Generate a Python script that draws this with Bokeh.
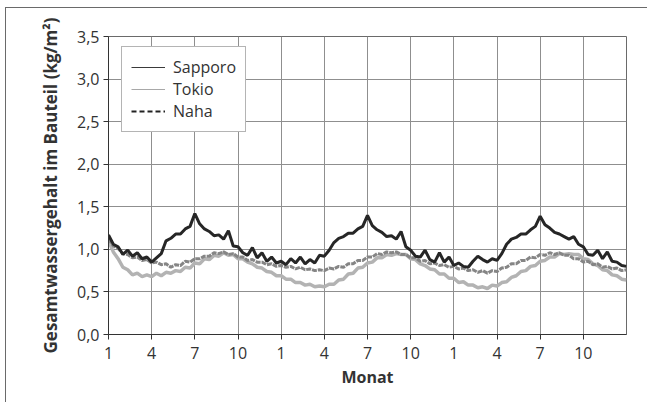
from bokeh.plotting import figure
from bokeh.models import FixedTicker, Legend, LegendItem, ColumnDataSource, Range1d
from bokeh.embed import file_html
from bokeh.resources import INLINE
import numpy as np

# Water content in the component (kg/m²), sampled three times per month over three years
sapporo = [
    1.17, 1.06, 1.03, 0.94, 0.99, 0.92, 0.96, 0.89, 0.91, 0.85, 0.90, 0.95,
    1.10, 1.13, 1.18, 1.18, 1.24, 1.27, 1.42, 1.30, 1.24, 1.21, 1.16, 1.17,
    1.12, 1.22, 1.04, 1.03, 0.96, 0.93, 1.02, 0.90, 0.96, 0.86, 0.91, 0.84,
    0.86, 0.82, 0.89, 0.84, 0.91, 0.83, 0.88, 0.84, 0.93, 0.92, 0.99, 1.08,
    1.13, 1.15, 1.19, 1.19, 1.24, 1.27, 1.40, 1.28, 1.23, 1.20, 1.15, 1.16,
    1.12, 1.21, 1.03, 0.99, 0.92, 0.91, 0.99, 0.88, 0.85, 0.96, 0.85, 0.91,
    0.81, 0.84, 0.80, 0.79, 0.86, 0.92, 0.88, 0.85, 0.89, 0.87, 0.95, 1.06,
    1.12, 1.14, 1.18, 1.18, 1.23, 1.27, 1.39, 1.29, 1.25, 1.20, 1.18, 1.15,
    1.12, 1.15, 1.06, 1.03, 0.94, 0.93, 0.99, 0.89, 0.97, 0.86, 0.85, 0.81,
    0.80,
]
tokio = [
    1.10, 0.97, 0.89, 0.79, 0.76, 0.70, 0.72, 0.68, 0.70, 0.68, 0.72, 0.69,
    0.73, 0.72, 0.75, 0.74, 0.79, 0.78, 0.84, 0.83, 0.89, 0.88, 0.93, 0.92,
    0.96, 0.93, 0.94, 0.89, 0.89, 0.85, 0.83, 0.79, 0.78, 0.74, 0.73, 0.69,
    0.69, 0.65, 0.65, 0.61, 0.61, 0.58, 0.59, 0.56, 0.57, 0.56, 0.59, 0.59,
    0.64, 0.65, 0.71, 0.72, 0.78, 0.79, 0.84, 0.85, 0.90, 0.90, 0.94, 0.93,
    0.95, 0.94, 0.94, 0.89, 0.88, 0.83, 0.81, 0.77, 0.76, 0.71, 0.71, 0.66,
    0.66, 0.61, 0.62, 0.58, 0.58, 0.55, 0.56, 0.54, 0.58, 0.57, 0.61, 0.62,
    0.67, 0.69, 0.74, 0.75, 0.80, 0.81, 0.86, 0.87, 0.91, 0.91, 0.95, 0.94,
    0.95, 0.94, 0.94, 0.89, 0.88, 0.83, 0.81, 0.76, 0.75, 0.70, 0.69, 0.65,
    0.64,
]
naha = [
    1.12, 1.04, 1.01, 0.95, 0.94, 0.90, 0.91, 0.87, 0.88, 0.84, 0.85, 0.82,
    0.83, 0.79, 0.82, 0.81, 0.86, 0.85, 0.89, 0.89, 0.92, 0.92, 0.96, 0.95,
    0.97, 0.94, 0.95, 0.91, 0.91, 0.87, 0.88, 0.85, 0.85, 0.82, 0.83, 0.80,
    0.81, 0.79, 0.80, 0.77, 0.79, 0.76, 0.77, 0.75, 0.76, 0.75, 0.78, 0.77,
    0.80, 0.79, 0.83, 0.83, 0.87, 0.87, 0.91, 0.91, 0.95, 0.94, 0.97, 0.96,
    0.97, 0.94, 0.94, 0.90, 0.90, 0.86, 0.87, 0.83, 0.84, 0.81, 0.82, 0.79,
    0.80, 0.77, 0.78, 0.75, 0.76, 0.73, 0.75, 0.72, 0.75, 0.74, 0.78, 0.79,
    0.83, 0.83, 0.87, 0.87, 0.91, 0.90, 0.94, 0.93, 0.96, 0.94, 0.96, 0.93,
    0.93, 0.89, 0.89, 0.85, 0.86, 0.82, 0.83, 0.79, 0.80, 0.77, 0.78, 0.75,
    0.76,
]
# time axis in months since the start of the simulation
months = np.arange(len(sapporo)) / 3.0

x_ticks = [0, 3, 6, 9, 12, 15, 18, 21, 24, 27, 30, 33]
x_tick_labels = ["1", "4", "7", "10", "1", "4", "7", "10", "1", "4", "7", "10"]
y_ticks = [0.0, 0.5, 1.0, 1.5, 2.0, 2.5, 3.0, 3.5]
y_tick_labels = ["0,0", "0,5", "1,0", "1,5", "2,0", "2,5", "3,0", "3,5"]

FONT = "Open Sans"
INK = "#333333"
FRAME = "#6a6a6a"

p = figure(
    width=642, height=395,
    frame_width=518, frame_height=298,
    min_border_left=102, min_border_top=28, min_border_right=22, min_border_bottom=69,
    x_range=(0, 36), y_range=(0, 3.5),
    output_backend="svg", toolbar_location=None,
)
p.margin = (7, 0, 0, 5)
p.styles = {"border-top": f"1px solid {FRAME}", "border-left": f"1px solid {FRAME}"}

p.outline_line_color = FRAME
p.outline_line_width = 1

src = ColumnDataSource(dict(m=months, s=sapporo, t=tokio, n=naha))
p.line("m", "t", source=src, color="#b3b3b3", line_width=3.5)
p.line("m", "n", source=src, color="#858585", line_width=3, line_dash="5 1")
p.line("m", "s", source=src, color="#262626", line_width=3)

# Legend swatches live on a hidden range so only their legend glyphs show
p.extra_y_ranges = {"swatch": Range1d(100, 101)}
ls = p.line("m", "s", source=src, color="#3a3a3a", line_width=1.2, y_range_name="swatch")
lt = p.line("m", "t", source=src, color="#a8a8a8", line_width=1.2, y_range_name="swatch")
ln = p.line("m", "n", source=src, color="#222222", line_width=2, line_dash="5 3",
            y_range_name="swatch")
legend = Legend(
    items=[LegendItem(label="Sapporo", renderers=[ls]),
           LegendItem(label="Tokio", renderers=[lt]),
           LegendItem(label="Naha", renderers=[ln])],
    location=(13, 202),
    label_text_font=FONT, label_text_font_size="16px", label_text_color=INK,
    glyph_width=34, glyph_height=20, label_height=20, spacing=0,
    label_standoff=8, padding=9, margin=0,
    border_line_color=FRAME, border_line_width=1,
    background_fill_color="white", background_fill_alpha=1,
)
p.add_layout(legend, "center")

p.xgrid.grid_line_color = "#8f8f8f"
p.ygrid.grid_line_color = "#8f8f8f"
p.xgrid.grid_line_width = 1
p.ygrid.grid_line_width = 1

p.xaxis.ticker = FixedTicker(ticks=x_ticks)
p.xaxis.major_label_overrides = {t: l for t, l in zip(x_ticks, x_tick_labels)}
p.yaxis.ticker = FixedTicker(ticks=y_ticks)
p.yaxis.major_label_overrides = {t: l for t, l in zip(y_ticks, y_tick_labels)}

for ax in (p.xaxis[0], p.yaxis[0]):
    ax.axis_line_color = INK
    ax.major_tick_line_color = INK
    ax.major_tick_out = 5
    ax.major_tick_in = 0
    ax.minor_tick_line_color = None
    ax.major_label_text_font = FONT
    ax.major_label_text_font_size = "16px"
    ax.major_label_text_color = INK
    ax.axis_label_text_font = FONT
    ax.axis_label_text_font_style = "bold"
    ax.axis_label_text_color = INK

p.xaxis.axis_label = "Monat"
p.xaxis.axis_label_text_font_size = "16px"
p.xaxis.axis_label_standoff = 4
p.yaxis.axis_label = "Gesamtwassergehalt im Bauteil (kg/m²)"
p.yaxis.axis_label_text_font_size = "17px"
p.yaxis.axis_label_standoff = 12
p.xaxis.major_label_standoff = 7
p.yaxis.major_label_standoff = 4

open("out.html", "w").write(file_html(p, INLINE))
